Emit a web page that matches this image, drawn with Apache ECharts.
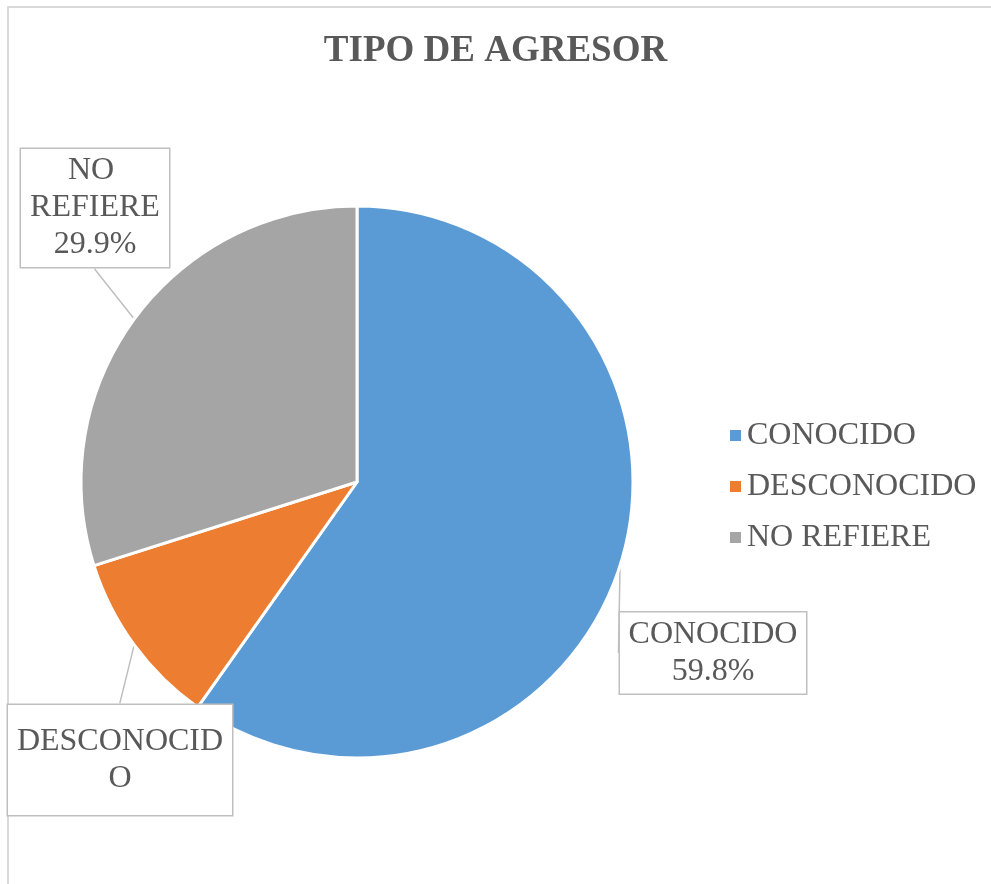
<!DOCTYPE html>
<html>
<head>
<meta charset="utf-8">
<script src="https://cdn.jsdelivr.net/npm/echarts@6/dist/echarts.min.js"></script>
<style>
  html, body { margin: 0; padding: 0; background: #fff; }
  #wrap { position: relative; width: 991px; height: 884px; overflow: hidden; }
  #frame { position: absolute; left: 7px; top: 6px; width: 1000px; height: 900px;
           border-left: 2px solid #d9d9d9; border-top: 2px solid #d9d9d9; }
  #container { position: absolute; left: 0; top: 0; width: 991px; height: 884px; }
</style>
</head>
<body>
<div id="wrap">
  <div id="frame"></div>
  <div id="container"></div>
</div>
<script>
// datos del grafico
var categorias = ['CONOCIDO', 'DESCONOCIDO', 'NO REFIERE'];
var porcentajes = [59.8, 10.3, 29.9];
var colores = ['#5B9BD5', '#ED7D31', '#A5A5A5'];

// donde va cada cuadro de etiqueta (centro del cuadro)
var cajas = {
    'CONOCIDO': [713, 653],
    'DESCONOCIDO': [120, 760],
    'NO REFIERE': [95, 208]
};

var fuente = '"Liberation Serif", "Times New Roman", serif';
var gris = '#595959';

var dom = document.getElementById('container');
var myChart = echarts.init(dom);

var datos = categorias.map(function (c, i) {
    var item = { name: c, value: porcentajes[i], itemStyle: { color: colores[i] } };
    if (c == 'DESCONOCIDO') {
        // el cuadro corta la segunda parte (el porcentaje no se ve)
        item.label = { width: 216, height: 74, overflow: 'breakAll', lineOverflow: 'truncate',
                       padding: [22, 4, 14, 4] };
    } else if (c == 'NO REFIERE') {
        item.label = { width: 140, overflow: 'break' };
    } else {
        item.label = { width: 178, overflow: 'break' };
    }
    return item;
});

var option = {
    animation: false,
    title: {
        text: 'TIPO DE AGRESOR',
        left: 'center',
        top: 28,
        textStyle: {
            fontFamily: fuente,
            fontSize: 37,
            fontWeight: 'bold',
            color: gris
        }
    },
    legend: {
        orient: 'vertical',
        left: 723,
        top: 412,
        itemWidth: 13,
        itemHeight: 13,
        itemGap: 14,
        icon: 'rect',
        data: categorias,
        textStyle: {
            fontFamily: fuente,
            fontSize: 32,
            lineHeight: 37,
            color: gris
        }
    },
    series: [{
        type: 'pie',
        center: [357, 482],
        radius: 276,
        startAngle: 90,
        clockwise: true,
        itemStyle: {
            borderColor: '#fff',
            borderWidth: 3
        },
        label: {
            show: true,
            position: 'outside',
            formatter: '{b}\n{d}%',
            fontFamily: fuente,
            fontSize: 32,
            lineHeight: 37,
            color: gris,
            align: 'center',
            backgroundColor: '#fff',
            borderColor: '#BFBFBF',
            borderWidth: 1.5,
            padding: [4, 4, 3, 4]
        },
        labelLine: {
            show: true,
            length: 1,
            length2: 1,
            lineStyle: { color: '#BFBFBF', width: 1.5 }
        },
        labelLayout: function (params) {
            var nombre = categorias[params.dataIndex];
            var p = cajas[nombre];
            return { x: p[0], y: p[1], align: 'center', verticalAlign: 'middle' };
        },
        emphasis: { disabled: true },
        data: datos
    }]
};

myChart.setOption(option);
</script>
</body>
</html>
